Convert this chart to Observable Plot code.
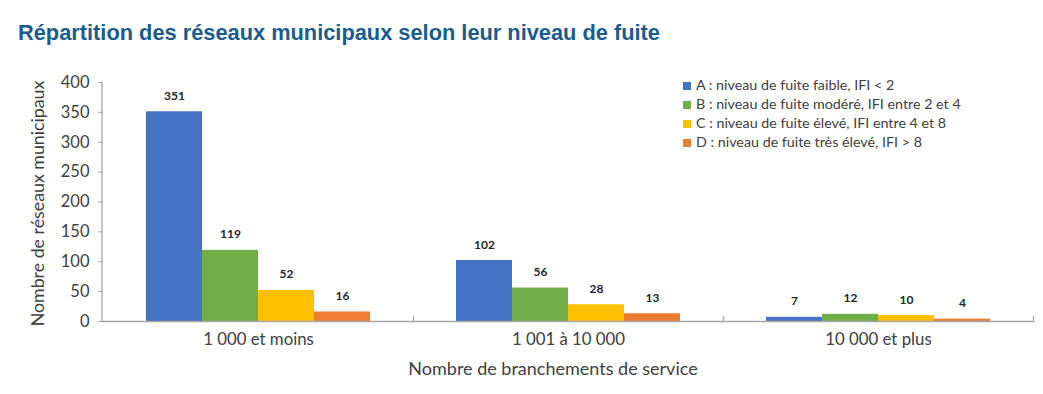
<!DOCTYPE html>
<html>
<head>
<meta charset="utf-8">
<script src="https://cdn.jsdelivr.net/npm/d3@7"></script>
<script src="https://cdn.jsdelivr.net/npm/@observablehq/plot@0.6"></script>
<style>
  body { margin: 0; background: #fff; width: 1043px; height: 394px; overflow: hidden; position: relative; }
  #title { position: absolute; left: 18px; top: 20px; font: bold 21.8px "Liberation Sans", Arial, sans-serif; color: #1b5c8c; white-space: nowrap; }
  #chart { position: absolute; left: 0; top: 50px; }
  #legend { position: absolute; left: 683px; top: 75px; font: 14.3px Lato, "Noto Sans", sans-serif; color: #404040; }
  #legend div { height: 19px; line-height: 19px; white-space: nowrap; }
  #legend span.sw { display: inline-block; width: 8px; height: 8px; margin-right: 5px; vertical-align: 0px; }
</style>
</head>
<body>
<div id="title">Répartition des réseaux municipaux selon leur niveau de fuite</div>
<div id="chart"></div>
<div id="legend"></div>
<script>
const groups = ["1 000 et moins", "1 001 à 10 000", "10 000 et plus"];
const series = ["A", "B", "C", "D"];
const seriesLabels = [
  "A : niveau de fuite faible, IFI < 2",
  "B : niveau de fuite modéré, IFI entre 2 et 4",
  "C : niveau de fuite élevé, IFI entre 4 et 8",
  "D : niveau de fuite très élevé, IFI > 8"
];
const colors = ["#4472C4", "#70AD47", "#FFC000", "#ED7D31"];
const valuesA = [351, 102, 7];
const valuesB = [119, 56, 12];
const valuesC = [52, 28, 10];
const valuesD = [16, 13, 4];
const yTicks = [0, 50, 100, 150, 200, 250, 300, 350, 400];
const yLabel = "Nombre de réseaux municipaux";
const xLabel = "Nombre de branchements de service";

const allValues = [valuesA, valuesB, valuesC, valuesD];
const data = [];
groups.forEach((g, gi) => series.forEach((s, si) => data.push({group: g, series: s, value: allValues[si][gi]})));

const W = 1043, H = 344;
const marginTop = 32, marginBottom = 73, marginLeft = 102;
const innerH = H - marginTop - marginBottom;

const chart = Plot.plot({
  width: W,
  height: H,
  marginLeft,
  marginRight: 10,
  marginTop,
  marginBottom,
  style: {fontFamily: "Lato, 'Noto Sans', sans-serif", color: "#404040", background: "#fff"},
  fx: {domain: groups, padding: 0, label: null, axis: null},
  x: {domain: series, paddingInner: 0, paddingOuter: 0.76, axis: null},
  y: {domain: [0, 400], label: null, axis: null},
  color: {domain: series, range: colors},
  marks: [
    Plot.barY(data, {fx: "group", x: "series", y: "value", fill: "series", inset: 0}),
    Plot.ruleY([0], {stroke: "#a6a6a6", strokeWidth: 1.3}),
    Plot.frame({anchor: "right", stroke: "#a6a6a6", strokeWidth: 1.3, insetTop: innerH - 5}),
    Plot.text(data, {fx: "group", x: "series", y: "value", text: d => String(d.value), lineAnchor: "bottom", dy: -12, fontWeight: "bold", fontSize: 12, fill: "#262626"}),
    Plot.axisY({ticks: yTicks, tickSize: 5, tickPadding: 9, stroke: "#a6a6a6", fill: "#404040", fontSize: 16.5, label: null}),
    Plot.axisFx({anchor: "bottom", tickSize: 0, tickPadding: 12, fontSize: 16.8, fill: "#404040", label: null}),
  ]
});
document.getElementById("chart").appendChild(chart);

const svg = d3.select(chart);
// y axis line (left edge of the first facet)
svg.append("line")
  .attr("x1", marginLeft).attr("x2", marginLeft).attr("y1", marginTop).attr("y2", H - marginBottom)
  .attr("stroke", "#a6a6a6").attr("stroke-width", 1.3);
// y axis label
svg.append("text")
  .attr("transform", `translate(38,${marginTop + innerH / 2 + 2}) rotate(-90)`)
  .attr("text-anchor", "middle").attr("dy", "0.35em")
  .attr("font-size", 17.8).attr("fill", "#404040")
  .text(yLabel);
// x axis label
svg.append("text")
  .attr("x", 553).attr("y", 319)
  .attr("text-anchor", "middle").attr("dy", "0.35em")
  .attr("font-size", 18).attr("fill", "#404040")
  .text(xLabel);

const legend = d3.select("#legend");
seriesLabels.forEach((t, i) => {
  const row = legend.append("div");
  row.append("span").attr("class", "sw").style("background", colors[i]);
  row.append("span").text(t);
});
</script>
</body>
</html>
